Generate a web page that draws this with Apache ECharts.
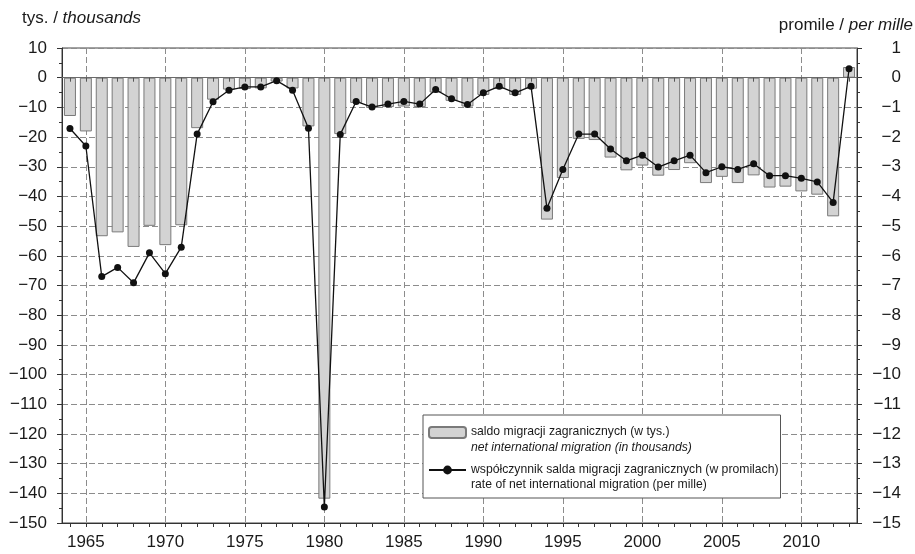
<!DOCTYPE html>
<html><head><meta charset="utf-8">
<script src="https://cdn.jsdelivr.net/npm/echarts@6/dist/echarts.min.js"></script>
<style>html,body{margin:0;padding:0;background:#fff}#c{width:915px;height:554px}</style>
</head><body><div id="c"></div>
<script>
const years = [1964,1965,1966,1967,1968,1969,1970,1971,1972,1973,1974,1975,1976,1977,1978,1979,
  1980,1981,1982,1983,1984,1985,1986,1987,1988,1989,1990,1991,1992,1993,1994,1995,1996,1997,1998,1999,
  2000,2001,2002,2003,2004,2005,2006,2007,2008,2009,2010,2011,2012,2013];
const netMigration = [-12.9,-18.1,-53.4,-52.1,-57.0,-49.9,-56.4,-49.7,-17.0,-7.4,-4.0,-3.8,-3.6,-1.3,-3.6,-16.4,
  -141.8,-19.0,-8.5,-10.2,-9.9,-9.7,-9.9,-5.0,-7.8,-9.7,-5.8,-3.8,-5.8,-3.7,-47.8,-33.8,-20.6,-21.0,-26.9,-31.2,
  -29.6,-33.0,-31.1,-28.8,-35.5,-33.4,-35.5,-32.9,-37.0,-36.7,-38.3,-39.4,-46.7,3.6];
const migrationRate = [-1.71,-2.30,-6.70,-6.39,-6.91,-5.90,-6.60,-5.71,-1.90,-0.81,-0.42,-0.31,-0.31,-0.10,-0.42,-1.70,
  -14.46,-1.91,-0.80,-0.99,-0.89,-0.80,-0.89,-0.40,-0.71,-0.90,-0.51,-0.29,-0.51,-0.29,-4.40,-3.09,-1.90,-1.90,-2.40,-2.80,
  -2.61,-3.01,-2.80,-2.61,-3.20,-3.00,-3.09,-2.90,-3.30,-3.30,-3.39,-3.51,-4.20,0.30];
const labelYears = [1965,1970,1975,1980,1985,1990,1995,2000,2005,2010];
const seriesNames = ['saldo', 'wspolczynnik'];
const legendPL = ['saldo migracji zagranicznych (w tys.)', 'współczynnik salda migracji zagranicznych (w promilach)'];
const legendEN = ['net international migration (in thousands)', 'rate of net international migration (per mille)'];
const leftTitle = ['tys. / ', 'thousands'];
const rightTitle = ['promile / ', 'per mille'];

const FONT = "'Liberation Sans', Arial, sans-serif";
const TXT = '#1a1a1a';
const AX = '#333';
const LF = 12.2;
const isLabelYear = (i, v) => labelYears.indexOf(Number(v)) >= 0;
const minus = v => String(v).replace('-', '\u2212');

const chart = echarts.init(document.getElementById('c'), null, {renderer: 'canvas'});
chart.setOption({
  animation: false,
  backgroundColor: '#fff',
  textStyle: {fontFamily: FONT},
  grid: {left: 62, right: 58, top: 48, bottom: 31, show: true, borderColor: '#444', borderWidth: 1, backgroundColor: 'transparent'},
  graphic: [
    {type: 'text', x: 22, y: 18, style: {text: '{n|' + leftTitle[0] + '}{i|' + leftTitle[1] + '}', verticalAlign: 'middle', align: 'left',
      rich: {n: {fontSize: 17, fontFamily: FONT, fill: TXT}, i: {fontSize: 17, fontFamily: FONT, fontStyle: 'italic', fill: TXT}}}},
    {type: 'text', x: 913, y: 25, style: {text: '{n|' + rightTitle[0] + '}{i|' + rightTitle[1] + '}', verticalAlign: 'middle', align: 'right',
      rich: {n: {fontSize: 17, fontFamily: FONT, fill: TXT}, i: {fontSize: 17, fontFamily: FONT, fontStyle: 'italic', fill: TXT}}}}
  ],
  legend: {
    orient: 'vertical', left: 423, top: 415,
    padding: [11, 2, 7, 5], itemGap: 10, itemWidth: 37, itemHeight: 11,
    backgroundColor: '#fff', borderColor: '#555', borderWidth: 1,
    selectedMode: false,
    data: seriesNames,
    formatter: name => {
      const k = seriesNames.indexOf(name);
      return '{a|' + legendPL[k] + '}\n{' + (k === 0 ? 'bi' : 'bn') + '|' + legendEN[k] + '}';
    },
    textStyle: {
      fontSize: LF, color: TXT, fontFamily: FONT,
      rich: {
        a: {fontSize: LF, lineHeight: 19, color: TXT, fontFamily: FONT},
        bi: {fontSize: LF, lineHeight: 1, verticalAlign: 'top', fontStyle: 'italic', color: TXT, fontFamily: FONT},
        bn: {fontSize: LF, lineHeight: 1, verticalAlign: 'top', color: TXT, fontFamily: FONT}
      }
    }
  },
  xAxis: [
    {
      type: 'category', data: years, boundaryGap: true, position: 'bottom',
      axisLine: {onZero: false, lineStyle: {color: AX, width: 1}},
      axisTick: {show: true, alignWithLabel: true, interval: 0, length: 4, lineStyle: {color: AX}},
      axisLabel: {interval: isLabelYear, fontSize: 17, color: TXT, margin: 11, fontFamily: FONT},
      splitLine: {show: true, interval: isLabelYear, alignWithLabel: true, lineStyle: {color: '#8c8c8c', type: [6, 3], width: 1}}
    },
    {
      type: 'category', data: years, boundaryGap: true, position: 'top', z: 3,
      axisLine: {onZero: true, lineStyle: {color: '#6a6a6a', width: 1}},
      axisTick: {show: true, inside: true, alignWithLabel: true, interval: 0, length: 4, lineStyle: {color: '#555'}},
      axisLabel: {show: false},
      splitLine: {show: false}
    }
  ],
  yAxis: [
    {
      type: 'value', position: 'left', min: -150, max: 10, interval: 10,
      axisLine: {show: true, lineStyle: {color: AX}},
      axisTick: {show: true, length: 5, lineStyle: {color: AX}},
      minorTick: {show: true, splitNumber: 2, length: 3, lineStyle: {color: AX}},
      axisLabel: {fontSize: 17, color: TXT, margin: 15, formatter: minus, fontFamily: FONT},
      splitLine: {show: true, lineStyle: {color: '#8c8c8c', type: [6, 3], width: 1}}
    },
    {
      type: 'value', position: 'right', min: -15, max: 1, interval: 1,
      axisLine: {show: true, lineStyle: {color: AX}},
      axisTick: {show: true, length: 5, lineStyle: {color: AX}},
      minorTick: {show: true, splitNumber: 2, length: 3, lineStyle: {color: AX}},
      axisLabel: {fontSize: 17, color: TXT, margin: 44, align: 'right', formatter: minus, fontFamily: FONT},
      splitLine: {show: false}
    }
  ],
  series: [
    {
      name: seriesNames[0], type: 'bar', xAxisIndex: 0, yAxisIndex: 0, data: netMigration,
      barWidth: 12, z: 2,
      itemStyle: {color: '#d3d3d3', borderColor: '#7a7a7a', borderWidth: 1}
    },
    {
      name: seriesNames[1], type: 'line', xAxisIndex: 0, yAxisIndex: 1, data: migrationRate,
      symbol: 'circle', symbolSize: 7, z: 4,
      lineStyle: {color: '#111', width: 1.3},
      itemStyle: {color: '#111'}
    }
  ]
});
</script>
</body></html>
